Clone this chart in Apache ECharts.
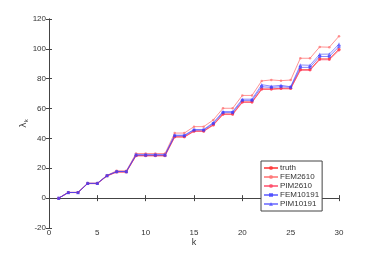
<!DOCTYPE html>
<html><head><meta charset="utf-8">
<script src="https://cdn.jsdelivr.net/npm/echarts@6/dist/echarts.min.js"></script>
<style>html,body{margin:0;padding:0;background:#fff}#c{width:374px;height:256px}</style>
</head><body><div id="c"></div>
<script>
const k = Array.from({length:30},(_,i)=>i+1);
const truth    = [0,3.8,3.8,9.9,9.9,15.0,17.6,17.6,28.5,28.5,28.5,28.5,41.1,41.1,45.0,45.0,49.2,56.4,56.4,64.5,64.5,73.2,73.2,73.6,73.6,86.1,86.1,93.3,93.3,99.8];
const fem2610  = [0,3.9,3.9,10.0,10.0,15.3,18.3,18.3,29.9,29.9,29.9,29.9,43.6,43.6,47.9,47.9,52.4,60.2,60.2,68.8,68.8,78.5,79.2,78.7,79.1,93.7,93.7,101.3,101.1,108.5];
const pim2610  = [0,3.7,3.7,9.7,9.7,14.8,17.4,17.4,28.3,28.3,28.3,28.3,40.9,40.9,44.7,44.7,48.9,56.0,56.0,64.1,64.1,72.8,72.8,73.2,73.2,85.6,85.6,92.7,92.7,99.0];
const fem10191 = [0,3.8,3.8,9.9,9.9,15.1,17.8,17.8,28.9,28.9,28.9,28.9,41.8,41.8,45.6,45.6,50.0,57.3,57.3,65.5,65.5,74.6,74.2,74.6,74.3,87.6,87.6,94.9,94.9,101.5];
const pim10191 = [0,3.8,3.8,9.9,9.9,15.1,17.9,17.9,29.1,29.1,29.1,29.1,42.2,42.2,46.0,46.0,50.6,58.0,58.0,66.3,66.3,76.0,75.0,75.6,74.6,89.2,89.0,96.4,96.5,103.2];

function pairs(a){return a.map((v,i)=>[k[i],v]);}
const tickFont = {fontFamily:'Liberation Sans, Arial, sans-serif', fontSize:8, color:'#333'};
const axLine = {lineStyle:{color:'#444',width:1}};
function mk(name,data,color,symbol,size,op){
  return {name,type:'line',data:pairs(data),symbol,symbolSize:size,
    lineStyle:{color,width:1,opacity:op},itemStyle:{color,opacity:op},
    emphasis:{disabled:true},animation:false,z:2};
}
const chart = echarts.init(document.getElementById('c'),null,{renderer:'canvas'});
chart.setOption({
  animation:false,
  backgroundColor:'#fff',
  grid:{left:49,right:35,top:19,bottom:28,containLabel:false},
  legend:{
    orient:'vertical',left:261,top:161,
    itemWidth:14,itemHeight:5,itemGap:1,
    borderColor:'#444',borderWidth:1,padding:[3,3,3,2],
    backgroundColor:'#fff',
    textStyle:{fontFamily:'Liberation Sans, Arial, sans-serif',fontSize:8,color:'#333',padding:[0,0,0,-3]},
    data:['truth','FEM2610','PIM2610','FEM10191','PIM10191']
  },
  xAxis:[{
    type:'value',min:0,max:30,interval:5,
    name:'k',nameLocation:'middle',nameGap:10,nameMoveOverlap:false,
    nameTextStyle:{fontFamily:'Liberation Sans, Arial, sans-serif',fontSize:9,color:'#333'},
    axisLine:axLine,axisTick:{inside:true,length:3,lineStyle:{color:'#444'}},
    axisLabel:Object.assign({margin:1},tickFont),splitLine:{show:false}
  },{
    type:'value',min:0,max:30,interval:5,position:'top',
    axisLine:axLine,axisTick:{inside:true,length:3,lineStyle:{color:'#444'}},
    axisLabel:{show:false},splitLine:{show:false}
  }],
  yAxis:[{
    type:'value',min:-20,max:120,interval:20,
    name:'{a|λ}{b|k}',nameLocation:'middle',nameGap:20,nameRotate:90,nameMoveOverlap:false,
    nameTextStyle:{rich:{a:{fontFamily:'DejaVu Sans',fontSize:9,color:'#333'},b:{fontFamily:'Liberation Sans',fontSize:6,color:'#333',verticalAlign:'bottom',padding:[4,0,0,0]}}},
    axisLine:axLine,axisTick:{inside:true,length:3,lineStyle:{color:'#444'}},
    axisLabel:Object.assign({margin:3},tickFont),splitLine:{show:false}
  },{
    type:'value',min:-20,max:120,interval:20,position:'right',
    axisLine:axLine,axisTick:{inside:true,length:3,lineStyle:{color:'#444'}},
    axisLabel:{show:false},splitLine:{show:false}
  }],
  series:[
    mk('truth',truth,'#ff3030','circle',3,0.75),
    mk('FEM2610',fem2610,'#ff7070','circle',2.5,0.75),
    mk('PIM2610',pim2610,'#ff4060','circle',2.5,0.7),
    mk('FEM10191',fem10191,'#3030ff','rect',3,0.6),
    mk('PIM10191',pim10191,'#4040ff','triangle',3.5,0.6)
  ]
});
</script></body></html>
